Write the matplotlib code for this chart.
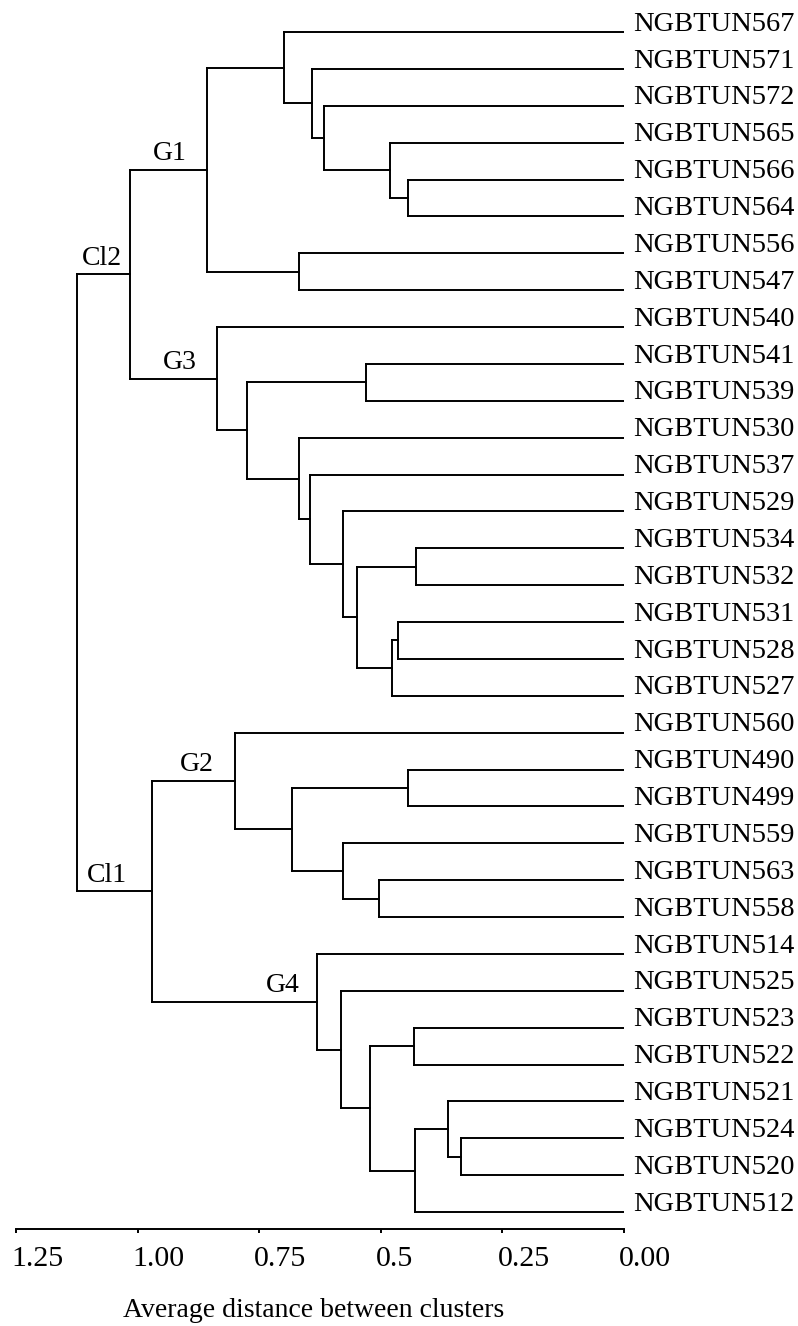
import numpy as np
import matplotlib
matplotlib.use("Agg")
import matplotlib.pyplot as plt
from matplotlib.transforms import ScaledTranslation

plt.rcParams['font.family'] = ['Liberation Serif', 'DejaVu Serif']

# leaves, top to bottom
leaf_names = ["NGBTUN567", "NGBTUN571", "NGBTUN572", "NGBTUN565", "NGBTUN566",
              "NGBTUN564", "NGBTUN556", "NGBTUN547", "NGBTUN540", "NGBTUN541",
              "NGBTUN539", "NGBTUN530", "NGBTUN537", "NGBTUN529", "NGBTUN534",
              "NGBTUN532", "NGBTUN531", "NGBTUN528", "NGBTUN527", "NGBTUN560",
              "NGBTUN490", "NGBTUN499", "NGBTUN559", "NGBTUN563", "NGBTUN558",
              "NGBTUN514", "NGBTUN525", "NGBTUN523", "NGBTUN522", "NGBTUN521",
              "NGBTUN524", "NGBTUN520", "NGBTUN512"]

# merges: new node id = len(leaf_names) + row index
merge_left = [4, 3, 2, 1, 0, 6, 37, 9, 14, 16, 42, 41, 13, 12, 11, 40, 8, 39,
              20, 23, 22, 51, 19, 30, 29, 57, 27, 59, 26, 25, 55, 50]
merge_right = [5, 33, 34, 35, 36, 7, 38, 10, 15, 17, 18, 43, 44, 45, 46, 47, 48, 49,
               21, 24, 52, 53, 54, 31, 56, 32, 28, 58, 60, 61, 62, 63]
merge_height = [0.444, 0.481, 0.617, 0.641, 0.699, 0.668, 0.857, 0.530, 0.428,
                0.465, 0.477, 0.549, 0.578, 0.646, 0.668, 0.775, 0.837, 1.016,
                0.444, 0.504, 0.578, 0.683, 0.800, 0.335, 0.362, 0.430, 0.432,
                0.522, 0.582, 0.631, 0.970, 1.125]

# group labels and the node they mark
group_names = ["G1", "Cl2", "G3", "Cl1", "G2", "G4"]
group_nodes = [39, 50, 49, 63, 55, 62]

tick_values = [1.25, 1.00, 0.75, 0.5, 0.25, 0.00]
tick_labels = ["1.25", "1.00", "0.75", "0.5", "0.25", "0.00"]

n = len(leaf_names)
node_y = {i: float(i) for i in range(n)}
node_h = {i: 0.0 for i in range(n)}

fig = plt.figure(figsize=(7.98, 13.26), dpi=100)
ax = fig.add_axes([0.02005, 0.07315, 0.7619, 0.91659])

lw = 1.4
for k, (a, b, h) in enumerate(zip(merge_left, merge_right, merge_height)):
    nid = n + k
    ya, yb = node_y[a], node_y[b]
    ax.plot([h, h], [ya, yb], color='black', lw=lw, solid_capstyle='projecting')
    ax.plot([node_h[a], h], [ya, ya], color='black', lw=lw, solid_capstyle='projecting')
    ax.plot([node_h[b], h], [yb, yb], color='black', lw=lw, solid_capstyle='projecting')
    node_y[nid] = (ya + yb) / 2
    node_h[nid] = h

for i, name in enumerate(leaf_names):
    ax.annotate(name, xy=(0, i), xytext=(6.5, 1), textcoords='offset points',
                ha='left', va='baseline', fontsize=20.5, annotation_clip=False)

# label x positions (distance units, text centre)
group_x = [0.933, 1.073, 0.913, 1.063, 0.878, 0.701]
for name, nid, gx in zip(group_names, group_nodes, group_x):
    ax.annotate(name, xy=(gx, node_y[nid]), xytext=(0, 7), textcoords='offset points',
                ha='center', va='baseline', fontsize=20)

ax.set_xlim(1.25, 0.0)
ax.set_ylim(n - 1 + 0.46, -0.5)
for s in ['top', 'right', 'left']:
    ax.spines[s].set_visible(False)
ax.spines['bottom'].set_linewidth(1.4)
ax.set_yticks([])
ax.set_xticks(tick_values)
ax.set_xticklabels(tick_labels, fontsize=21.5)
ax.tick_params(axis='x', length=3, width=1.4, pad=9)

# tick labels start just left of their tick, as in the original
shift = ScaledTranslation(-0.05, 0, fig.dpi_scale_trans)
for lab in ax.get_xticklabels():
    lab.set_horizontalalignment('left')
    lab.set_transform(lab.get_transform() + shift)

ax.set_xlabel("Average distance between clusters", fontsize=20, labelpad=19)
ax.xaxis.label.set_x(0.49)

fig.savefig("out.png", dpi=100)
